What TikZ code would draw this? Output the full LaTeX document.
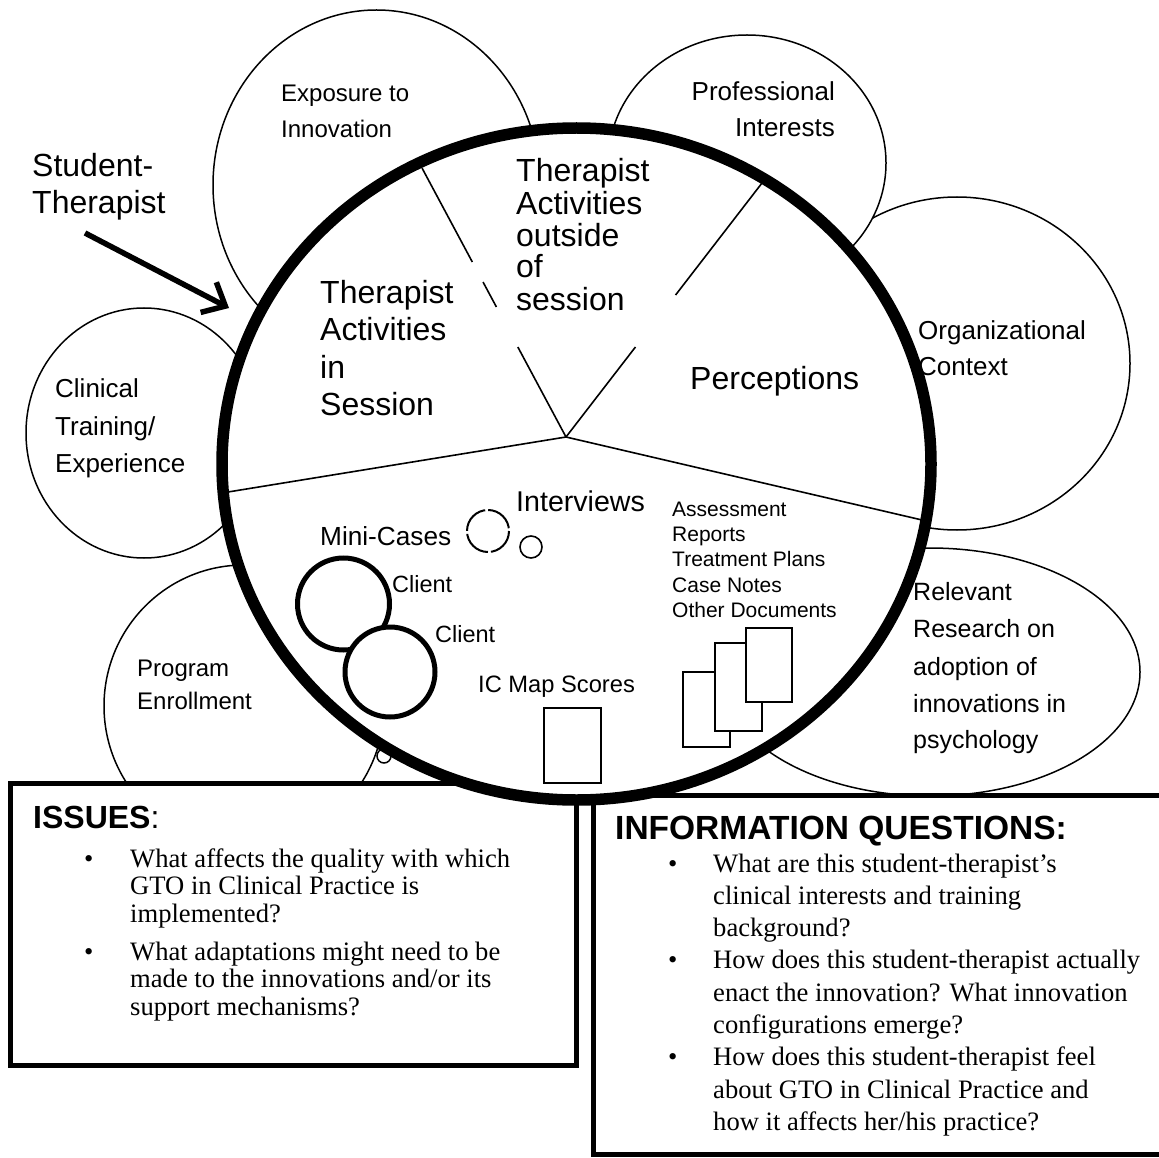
\documentclass[tikz,border=0pt]{standalone}
\usepackage{fontspec}
\setmainfont{Liberation Serif}
\setsansfont{Liberation Sans}
\usetikzlibrary{calc,arrows.meta}
\newcommand\fsz[1]{\fontsize{#1}{#1}\selectfont}
\begin{document}
\begin{tikzpicture}[x=1pt,y=-1pt,
  outer/.style={draw, line width=1.5pt, fill=white},
  divider/.style={line width=1.6pt},
  box/.style={draw, line width=5pt, fill=white},
  client/.style={draw, line width=5pt, fill=white},
  doc/.style={draw, line width=2pt, fill=white},
  lab/.style={anchor=base west, inner sep=0pt, font=\sffamily},
  labr/.style={anchor=base east, inner sep=0pt, font=\sffamily},
  txt/.style={anchor=base west, inner sep=0pt, font=\rmfamily}
]
\useasboundingbox (0,0) rectangle (1159,1158);

% outer circles
\draw[outer] (957,363.5) ellipse [x radius=173, y radius=166.5];
\draw[outer] (747,163) ellipse [x radius=139, y radius=128];
\draw[outer] (376.5,185) ellipse [x radius=163.5, y radius=175];
\draw[outer] (144,433) ellipse [x radius=118, y radius=125];
\draw[outer] (244,706) ellipse [x radius=140, y radius=141];
\draw[outer] (930,672) ellipse [x radius=210, y radius=124];
\draw[line width=1.5pt] (384,756) circle [radius=7];

% boxes
\draw[box] (10.5,783.5) rectangle (576.5,1065);
\draw[box] (593.5,795) rectangle (1165,1154.5);

% main circle
\draw[line width=11.5pt, fill=white] (576.5,464) ellipse [x radius=354.5, y radius=336];

% dividers
\coordinate (ctr) at (566,437);
\coordinate (dl) at (228,492);
\coordinate (dr) at (922,520);
\coordinate (ul) at (422,168);
\coordinate (ur) at (762,183);
\draw[divider] (dl) -- (ctr) -- (dr);
\draw[divider] (ctr) -- ($(ctr)!0.3346!(ul)$);
\draw[divider] ($(ctr)!0.4833!(ul)$) -- ($(ctr)!0.5762!(ul)$);
\draw[divider] ($(ctr)!0.6506!(ul)$) -- (ul);
\draw[divider] (ctr) -- ($(ctr)!0.3543!(ur)$);
\draw[divider] ($(ctr)!0.559!(ur)$) -- (ur);

% inner shapes
\draw[line width=2pt, dash pattern=on 30pt off 3pt] (488,531) circle [radius=21];
\draw[line width=1.6pt] (531,547) circle [radius=11];
\draw[client] (343.5,604) circle [radius=46];
\draw[client] (390,672) circle [radius=45];
\draw[doc] (544,708) rectangle (601,783);
\draw[doc] (683,672) rectangle (730,747);
\draw[doc] (715,643) rectangle (762,731);
\draw[doc] (746,628) rectangle (792,702);

% outer labels
\node[lab, font=\sffamily\fsz{24}] (exp1) at (281,102) {Exposure to};
\node[lab, font=\sffamily\fsz{24}] (exp2) at (281,138) {Innovation};
\node[labr, font=\sffamily\fsz{26}] (pro1) at (835,101) {Professional};
\node[labr, font=\sffamily\fsz{26}] (pro2) at (835,137) {Interests};
\node[lab, font=\sffamily\fsz{26}] (org1) at (918,339) {Organizational};
\node[lab, font=\sffamily\fsz{26}] (org2) at (918,375) {Context};
\node[lab, font=\sffamily\fsz{26}] (cli1) at (55,397) {Clinical};
\node[lab, font=\sffamily\fsz{26}] (cli2) at (55,435) {Training/};
\node[lab, font=\sffamily\fsz{26}] (cli3) at (55,472) {Experience};
\node[lab, font=\sffamily\fsz{24}] (prg1) at (137,676) {Program};
\node[lab, font=\sffamily\fsz{24}] (prg2) at (137,709) {Enrollment};
\node[lab, font=\sffamily\fsz{25}] (rel1) at (913,600) {Relevant};
\node[lab, font=\sffamily\fsz{25}] (rel2) at (913,637) {Research on};
\node[lab, font=\sffamily\fsz{25}] (rel3) at (913,675) {adoption of};
\node[lab, font=\sffamily\fsz{25}] (rel4) at (913,712) {innovations in};
\node[lab, font=\sffamily\fsz{25}] (rel5) at (913,748) {psychology};

% student-therapist
\node[lab, font=\sffamily\fsz{32}] (st1) at (32,177) {Student-};
\node[lab, font=\sffamily\fsz{32}] (st2) at (32,214) {Therapist};
\coordinate (arS) at (85,233);
\coordinate (arT) at (229,308);
\draw[line width=5.5pt, -{Straight Barb[length=19pt, width=34pt]}] (arS) -- (arT);

% inner labels
\node[lab, font=\sffamily\fsz{32}] (in1) at (320,303) {Therapist};
\node[lab, font=\sffamily\fsz{32}] (in2) at (320,341) {Activities};
\node[lab, font=\sffamily\fsz{32}] (in3) at (320,378) {in};
\node[lab, font=\sffamily\fsz{32}] (in4) at (320,415) {Session};
\node[lab, font=\sffamily\fsz{32}] (out1) at (516,182) {Therapist};
\node[lab, font=\sffamily\fsz{32}] (out2) at (516,215) {Activities};
\node[lab, font=\sffamily\fsz{32}] (out3) at (516,247) {outside};
\node[lab, font=\sffamily\fsz{32}] (out4) at (516,278) {of};
\node[lab, font=\sffamily\fsz{32}] (out5) at (516,310) {session};
\node[lab, font=\sffamily\fsz{32}] (perc) at (690,389) {Perceptions};
\node[lab, font=\sffamily\fsz{28.6}] (intv) at (516,511) {Interviews};
\node[lab, font=\sffamily\fsz{26.2}] (mini) at (320,545) {Mini-Cases};
\node[lab, font=\sffamily\fsz{23.5}] (cl1) at (392,592) {Client};
\node[lab, font=\sffamily\fsz{23.5}] (cl2) at (435,642) {Client};
\node[lab, font=\sffamily\fsz{23.7}] (icm) at (478,692) {IC Map Scores};
\node[lab, font=\sffamily\fsz{21}] (dc1) at (672,516) {Assessment};
\node[lab, font=\sffamily\fsz{21}] (dc2) at (672,541) {Reports};
\node[lab, font=\sffamily\fsz{21}] (dc3) at (672,566.5) {Treatment Plans};
\node[lab, font=\sffamily\fsz{21}] (dc4) at (672,592) {Case Notes};
\node[lab, font=\sffamily\fsz{21}] (dc5) at (672,617) {Other Documents};

% ISSUES box text
\node[lab, font=\sffamily\fsz{32}] (iss) at (33,828) {\textbf{ISSUES}:};
\node[txt, font=\rmfamily\fsz{26.6}] (ib1) at (84,867) {\textbullet};
\node[txt, font=\rmfamily\fsz{26.6}] (ib2) at (84,960) {\textbullet};
\node[txt, font=\rmfamily\fsz{26.6}] (i1) at (130,867) {What affects the quality with which};
\node[txt, font=\rmfamily\fsz{26.6}] (i2) at (130,894.5) {GTO in Clinical Practice is};
\node[txt, font=\rmfamily\fsz{26.6}] (i3) at (130,922) {implemented?};
\node[txt, font=\rmfamily\fsz{26.6}] (i4) at (130,960) {What adaptations might need to be};
\node[txt, font=\rmfamily\fsz{26.6}] (i5) at (130,987.5) {made to the innovations and/or its};
\node[txt, font=\rmfamily\fsz{26.6}] (i6) at (130,1015) {support mechanisms?};

% INFORMATION box text
\node[lab, font=\sffamily\bfseries\fsz{33.5}] (inf) at (615,839) {INFORMATION QUESTIONS:};
\node[txt, font=\rmfamily\fsz{26.6}] (qb1) at (668,872) {\textbullet};
\node[txt, font=\rmfamily\fsz{26.6}] (qb2) at (668,968.9) {\textbullet};
\node[txt, font=\rmfamily\fsz{26.6}] (qb3) at (668,1065.8) {\textbullet};
\node[txt, font=\rmfamily\fsz{26.6}] (q1) at (713,872) {What are this student-therapist’s};
\node[txt, font=\rmfamily\fsz{26.6}] (q2) at (713,904.3) {clinical interests and training};
\node[txt, font=\rmfamily\fsz{26.6}] (q3) at (713,936.6) {background?};
\node[txt, font=\rmfamily\fsz{26.6}] (q4) at (713,968.9) {How does this student-therapist actually};
\node[txt, font=\rmfamily\fsz{26.6}] (q5) at (713,1001.2) {enact the innovation? What innovation};
\node[txt, font=\rmfamily\fsz{26.6}] (q6) at (713,1033.5) {configurations emerge?};
\node[txt, font=\rmfamily\fsz{26.6}] (q7) at (713,1065.8) {How does this student-therapist feel};
\node[txt, font=\rmfamily\fsz{26.6}] (q8) at (713,1098.1) {about GTO in Clinical Practice and};
\node[txt, font=\rmfamily\fsz{26.6}] (q9) at (713,1130.4) {how it affects her/his practice?};
\end{tikzpicture}
\end{document}
